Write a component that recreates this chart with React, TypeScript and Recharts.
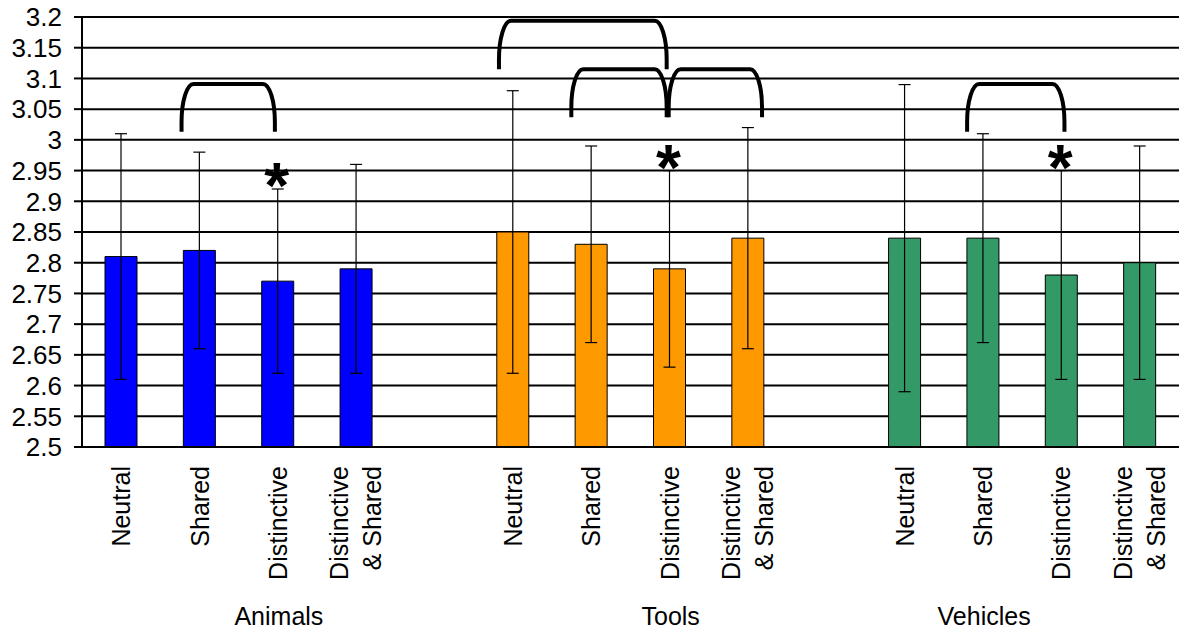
import React from "react";
import {
  BarChart,
  Bar,
  XAxis,
  YAxis,
  CartesianGrid,
  ErrorBar,
  Cell,
  LabelList,
  ReferenceArea,
} from "recharts";

// ---- data ----
const categories = [
  "A-Neutral", "A-Shared", "A-Distinctive", "A-DistShared", "gap-1",
  "T-Neutral", "T-Shared", "T-Distinctive", "T-DistShared", "gap-2",
  "V-Neutral", "V-Shared", "V-Distinctive", "V-DistShared",
];
const tickLabels: string[][] = [
  ["Neutral"], ["Shared"], ["Distinctive"], ["Distinctive", "& Shared"], [],
  ["Neutral"], ["Shared"], ["Distinctive"], ["Distinctive", "& Shared"], [],
  ["Neutral"], ["Shared"], ["Distinctive"], ["Distinctive", "& Shared"],
];
const groupLabels = ["", "", "Animals", "", "", "", "", "Tools", "", "", "", "Vehicles", "", ""];
const groups = [
  "Animals", "Animals", "Animals", "Animals", "",
  "Tools", "Tools", "Tools", "Tools", "",
  "Vehicles", "Vehicles", "Vehicles", "Vehicles",
];
const means = [2.81, 2.82, 2.77, 2.79, null, 2.85, 2.83, 2.79, 2.84, null, 2.84, 2.84, 2.78, 2.8];
const errors = [0.2, 0.16, 0.15, 0.17, null, 0.23, 0.16, 0.16, 0.18, null, 0.25, 0.17, 0.17, 0.19];
const significant = [false, false, true, false, false, false, false, true, false, false, false, false, true, false];
const yTicks = [2.5, 2.55, 2.6, 2.65, 2.7, 2.75, 2.8, 2.85, 2.9, 2.95, 3, 3.05, 3.1, 3.15, 3.2];

// comparison brackets (y in data units)
const brackets = [
  { from: "A-Shared", to: "A-Distinctive", low: 3.013, high: 3.091 },
  { from: "T-Neutral", to: "T-Distinctive", low: 3.115, high: 3.194 },
  { from: "T-Shared", to: "T-Distinctive", low: 3.037, high: 3.115 },
  { from: "T-Distinctive", to: "T-DistShared", low: 3.037, high: 3.115 },
  { from: "V-Shared", to: "V-Distinctive", low: 3.013, high: 3.091 },
];
// small horizontal nudges of bracket ends (px)
const bracketNudge = [[-18, -3], [-14, -3], [-20, -3], [-1, 14], [-16, 3]];

const groupColors: Record<string, string> = {
  Animals: "#0000FF",
  Tools: "#FF9900",
  Vehicles: "#339966",
};

const chartData = categories.map((key, i) => ({
  key,
  mean: means[i],
  err: errors[i],
  star: significant[i] ? `${means[i]}|${errors[i]}` : "",
}));

const FONT = "'Liberation Sans', Arial, sans-serif";

function XTick(props: any) {
  const { x, y, payload } = props;
  const idx = categories.indexOf(payload.value);
  const lines = tickLabels[idx] || [];
  const top = y + 11;
  return (
    <g>
      {lines.length > 0 && (
        <text
          transform={`translate(${x}, ${top}) rotate(-90)`}
          textAnchor="end"
          fontSize={25}
          fontFamily={FONT}
          fill="#000"
        >
          {lines.length === 1 ? (
            <tspan x={0} dy={9}>{lines[0]}</tspan>
          ) : (
            <>
              <tspan x={0} dy={-8}>{lines[0]}</tspan>
              <tspan x={0} dy={33}>{lines[1]}</tspan>
            </>
          )}
        </text>
      )}
      {groupLabels[idx] && (
        <text x={x + 1} y={625} textAnchor="middle" fontSize={25} fontFamily={FONT} fill="#000">
          {groupLabels[idx]}
        </text>
      )}
    </g>
  );
}

function renderStar(props: any) {
  const { x, y, width, height, value } = props;
  if (!value) return <g />;
  const [mean, err] = String(value).split("|").map(Number);
  const perUnit = height / (mean - 2.5);
  const errTop = y - err * perUnit;
  const cx = x + width / 2 - 1;
  const fs = 64;
  const cy = errTop - 18;
  return (
    <text
      x={cx}
      y={cy + 0.58 * fs}
      textAnchor="middle"
      fontSize={fs}
      fontWeight="bold"
      fontFamily={FONT}
      fill="#000"
    >
      *
    </text>
  );
}

function makeBracket(i: number) {
  const b = brackets[i];
  const span = categories.indexOf(b.to) - categories.indexOf(b.from) + 1;
  return (props: any) => {
    const { x, y, width, height } = props;
    const bw = width / span;
    const xl = x + bw / 2 + bracketNudge[i][0];
    const xr = x + width - bw / 2 + bracketNudge[i][1];
    const yt = y;
    const yb = y + height;
    const h = yb - yt;
    const rx = 12;
    const ry = h * 0.8;
    const d = `M ${xl} ${yb} L ${xl} ${yt + ry} A ${rx} ${ry} 0 0 1 ${xl + rx} ${yt} L ${xr - rx} ${yt} A ${rx} ${ry} 0 0 1 ${xr} ${yt + ry} L ${xr} ${yb}`;
    return <path d={d} fill="none" stroke="#000" strokeWidth={4} />;
  };
}

export default function App() {
  return (
    <div style={{ position: "absolute", left: 0, top: 0, background: "#fff" }}>
      <BarChart
        width={1179}
        height={632}
        data={chartData}
        margin={{ top: 17, right: 0, bottom: 0, left: 0 }}
        style={{ fontFamily: FONT }}
      >
        <CartesianGrid vertical={false} stroke="#000" strokeWidth={2} />
        <XAxis
          dataKey="key"
          height={185}
          interval={0}
          tickLine={false}
          axisLine={{ stroke: "#000", strokeWidth: 2 }}
          tick={<XTick />}
        />
        <YAxis
          width={82}
          domain={[2.5, 3.2]}
          ticks={yTicks}
          allowDataOverflow
          interval={0}
          tickSize={8}
          tickMargin={12}
          tickLine={{ stroke: "#000", strokeWidth: 2 }}
          axisLine={{ stroke: "#000", strokeWidth: 2 }}
          tick={{ fill: "#000", fontSize: 26, fontFamily: FONT }}
          tickFormatter={(v: number) => String(v)}
        />
        {brackets.map((b, i) => (
          <ReferenceArea
            key={i}
            x1={b.from}
            x2={b.to}
            y1={b.low}
            y2={b.high}
            ifOverflow="visible"
            shape={makeBracket(i)}
          />
        ))}
        <Bar
          dataKey="mean"
          barSize={32}
          stroke="#000"
          strokeWidth={1}
          isAnimationActive={false}
        >
          {chartData.map((d, i) => (
            <Cell key={d.key} fill={groupColors[groups[i]] || "#fff"} />
          ))}
          <ErrorBar dataKey="err" width={6} stroke="#000" strokeWidth={1.2} direction="y" />
          <LabelList dataKey="star" content={renderStar} />
        </Bar>
      </BarChart>
    </div>
  );
}
